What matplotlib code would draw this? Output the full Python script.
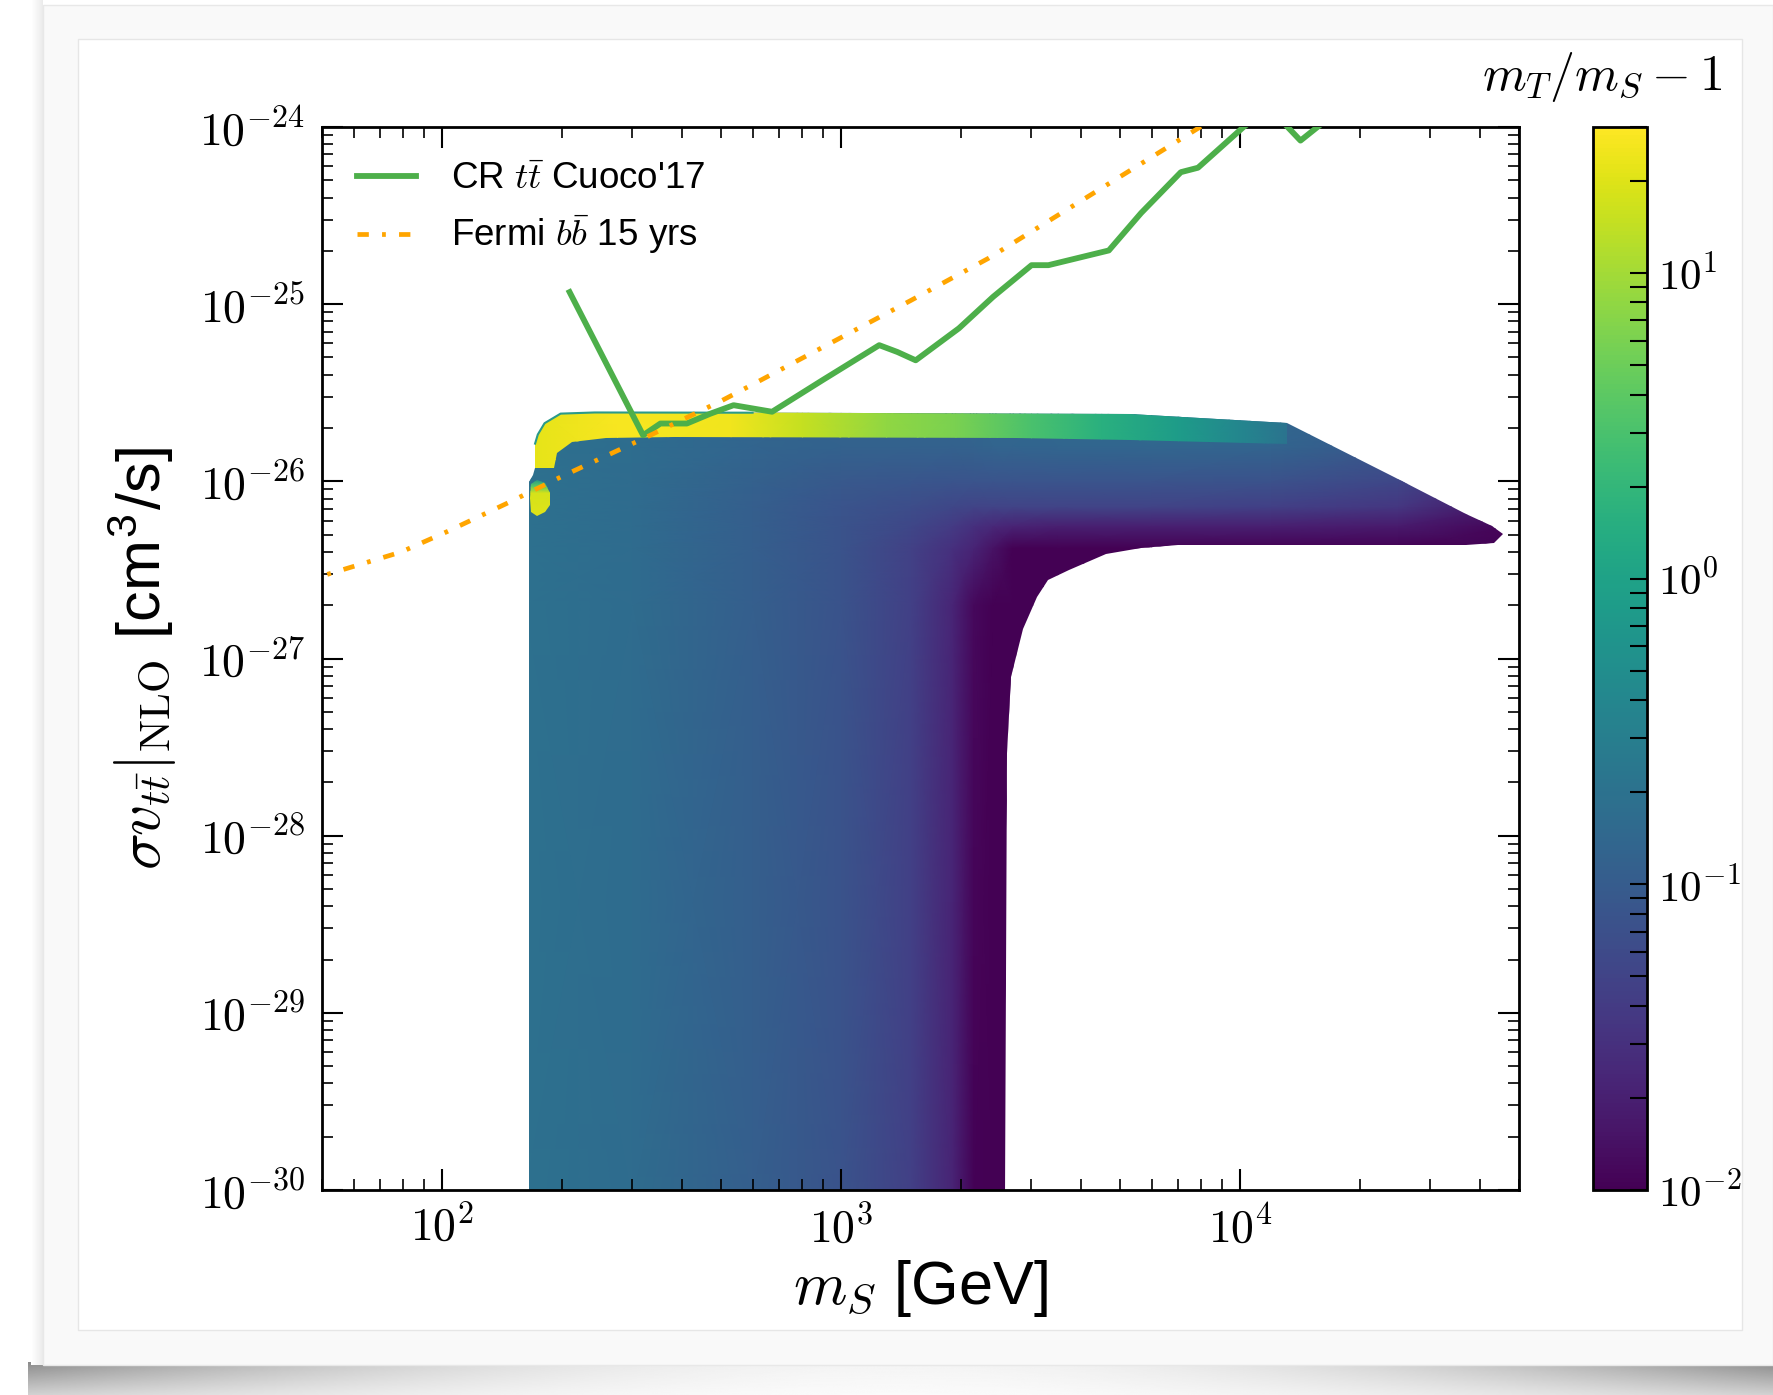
import numpy as np
import matplotlib
matplotlib.use('Agg')
import matplotlib.pyplot as plt
from matplotlib.colors import LogNorm
from matplotlib.patches import Polygon, Rectangle
from matplotlib.ticker import FuncFormatter, LogLocator, NullFormatter

plt.rcParams['font.family'] = ['Liberation Sans', 'DejaVu Sans']
plt.rcParams['mathtext.fontset'] = 'cm'

# outline of the scanned region (m_S [GeV], sigma v [cm^3/s])
region_ms = [165.4, 165.4, 169.2, 171.0, 171.0, 173.7, 180.6, 198.1, 241.2, 5288, 13092,
             24280, 36720, 42720, 45600, 43280, 36720, 6968, 5648, 4606, 3733, 3307,
             3106, 2863, 2670, 2601, 2572]
region_sv = [9e-31, 9.91e-27, 1.082e-26, 1.183e-26, 1.633e-26, 1.837e-26, 2.128e-26, 2.411e-26,
             2.447e-26, 2.393e-26, 2.135e-26, 1.057e-26, 6.57e-27, 5.59e-27, 5.04e-27, 4.48e-27,
             4.35e-27, 4.35e-27, 4.23e-27, 3.87e-27, 3.15e-27, 2.76e-27, 2.21e-27, 1.47e-27,
             7.91e-28, 2.91e-28, 9e-31]

# colour table of m_T/m_S - 1 inside the region
bulk_ms = [160, 300, 600, 1000, 1500, 1900, 2150, 2400, 2700, 3500, 6000, 12000, 25000, 47000]
bulk_sv = [9e-31, 2e-27, 4.2e-27, 5.6e-27, 7.2e-27, 1.0e-26, 1.6e-26, 2.6e-26]
bulk_r = [
    [.19, .165, .11, .077, .045, .022, .0105, .01, .01, .01, .01, .01, .01, .01],
    [.19, .165, .11, .077, .045, .023, .012, .01, .01, .01, .01, .01, .01, .01],
    [.19, .165, .11, .077, .047, .030, .022, .015, .01, .01, .01, .01, .01, .01],
    [.19, .165, .11, .078, .055, .040, .030, .025, .022, .02, .02, .02, .018, .011],
    [.19, .165, .11, .080, .065, .055, .050, .050, .050, .05, .05, .045, .035, .015],
    [.19, .165, .115, .090, .085, .080, .080, .080, .080, .08, .08, .075, .055, .025],
    [.19, .17, .13, .12, .12, .12, .125, .13, .13, .135, .14, .13, .09, .04],
    [.19, .17, .13, .12, .12, .12, .125, .13, .13, .135, .14, .14, .10, .05],
]

# upper band (large mass splitting)
band_ms = [171.0, 171.0, 173.7, 180.6, 198.1, 241.2, 5288, 13092,
           13092, 5288, 2742, 382, 257.5, 211.5, 194.2, 190.4]
band_sv = [1.183e-26, 1.633e-26, 1.837e-26, 2.128e-26, 2.411e-26, 2.447e-26, 2.393e-26, 2.135e-26,
           1.633e-26, 1.707e-26, 1.758e-26, 1.784e-26, 1.758e-26, 1.658e-26, 1.452e-26, 1.183e-26]
band_nodes_ms = [165, 174, 275, 530, 800, 1300, 1940, 3000, 4500, 7000, 10000, 13500]
band_nodes_r = [22, 22, 28, 25, 15, 8, 6, 3, 1.6, 0.8, 0.4, 0.2]

# small isolated blob at the left edge
blob_ms = [167.5, 173.0, 181.0, 186.5, 186.5, 181.0, 173.0, 167.5, 166.0]
blob_sv = [9.62e-27, 1.02e-26, 9.77e-27, 8.56e-27, 7.39e-27, 6.67e-27, 6.38e-27, 6.67e-27, 8.07e-27]
blob_nodes_sv = [6.3e-27, 8.6e-27, 9.4e-27, 1.03e-26]
blob_nodes_r = [20, 18, 4, 0.6]

# limits
cr_ms = [208.7, 318.9, 352.5, 410.6, 470.4, 537.6, 671.5, 897.4, 1246, 1384, 1538, 1974, 2404,
         3001, 3308, 4688, 5648, 7105, 7843, 8943, 10200, 10890, 12835, 14170, 15630, 17250]
cr_sv = [1.17e-25, 1.82e-26, 2.12e-26, 2.12e-26, 2.41e-26, 2.69e-26, 2.47e-26, 3.72e-26, 5.87e-26,
         5.37e-26, 4.82e-26, 7.31e-26, 1.10e-25, 1.66e-25, 1.66e-25, 2.01e-25, 3.27e-25, 5.56e-25,
         5.89e-25, 7.67e-25, 1.0e-24, 1.11e-24, 1.06e-24, 8.38e-25, 1.0e-24, 1.19e-24]
fermi_ms = [45, 78.9, 102.7, 144.8, 202.1, 318.9, 503, 628.4, 1496, 2335, 7943, 10200]
fermi_sv = [2.72e-27, 3.99e-27, 5.19e-27, 7.48e-27, 1.08e-26, 1.74e-26, 2.86e-26, 3.72e-26,
            1.05e-25, 1.81e-25, 1.0e-24, 1.38e-24]

W, H = 1773, 1395
fig = plt.figure(figsize=(W / 100, H / 100), dpi=100, facecolor='white')

# screenshot card and shadow
bg = fig.add_axes([0, 0, 1, 1], zorder=-5)
bg.set_xlim(0, W)
bg.set_ylim(H, 0)
bg.axis('off')
xx = np.linspace(-1, 1, 400)
yy = np.linspace(0, 1, 40)
side = 0.1 + 0.9 * np.abs(xx) ** 2
shade = 1 - 0.45 * np.outer(1 - 0.6 * yy, side)
bg.imshow(shade, cmap='gray', vmin=0, vmax=1, extent=[28, W, H, 1362], aspect='auto', zorder=0)
for k in range(12):
    bg.add_patch(Rectangle((31 + k, 0), 1, 1365, color=str(1 - 0.007 * k), lw=0, zorder=1))
bg.add_patch(Rectangle((43, 5), W - 43, 1360, facecolor='#f9f9f9', edgecolor='#e8e8e8', lw=1, zorder=2))
bg.add_patch(Rectangle((78, 39), 1742 - 78, 1330 - 39, facecolor='white', edgecolor='#e6e6e6', lw=1, zorder=3))

ax = fig.add_axes([322 / W, 1 - 1190 / H, (1519 - 322) / W, (1190 - 127) / H])
ax.set_facecolor('none')
ax.set_xscale('log')
ax.set_yscale('log')
ax.set_xlim(50, 5e4)
ax.set_ylim(1e-30, 1e-24)

norm = LogNorm(vmin=1e-2, vmax=30)

mesh = ax.pcolormesh(bulk_ms, bulk_sv, np.array(bulk_r), shading='gouraud', cmap='viridis', norm=norm, zorder=1)
clip = Polygon(np.column_stack([region_ms, region_sv]), closed=True, transform=ax.transData)
mesh.set_clip_path(clip)

band_r = np.array([band_nodes_r, band_nodes_r])
band_mesh = ax.pcolormesh(band_nodes_ms, [1.1e-26, 2.6e-26], band_r, shading='gouraud',
                          cmap='viridis', norm=norm, zorder=2)
band_mesh.set_clip_path(Polygon(np.column_stack([band_ms, band_sv]), closed=True, transform=ax.transData))
ax.plot(region_ms[4:9] + [600], region_sv[4:9] + [2.44e-26], color='#2a9a8a', lw=1.5, zorder=2.5)

blob_r = np.array([[v, v] for v in blob_nodes_r])
blob_mesh = ax.pcolormesh([160, 190], blob_nodes_sv, blob_r, shading='gouraud', cmap='viridis', norm=norm, zorder=2)
blob_mesh.set_clip_path(Polygon(np.column_stack([blob_ms, blob_sv]), closed=True, transform=ax.transData))

ax.plot(cr_ms, cr_sv, color='#4daf4a', lw=4.2, label=r"CR $t\bar{t}$ Cuoco'17", zorder=4)
ax.plot(fermi_ms, fermi_sv, color='#ffa500', lw=3.4, dashes=(2.4, 2.8, 0.8, 2.8),
        label=r'Fermi $b\bar{b}$ 15 yrs', zorder=4)

fmt = FuncFormatter(lambda v, p: r'$10^{%d}$' % int(round(np.log10(v))))
ax.xaxis.set_major_formatter(fmt)
ax.yaxis.set_major_formatter(fmt)
ax.xaxis.set_minor_formatter(NullFormatter())
ax.yaxis.set_minor_formatter(NullFormatter())
ax.yaxis.set_major_locator(LogLocator(base=10, numticks=20))
ax.yaxis.set_minor_locator(LogLocator(base=10, subs=np.arange(2, 10), numticks=20))
ax.tick_params(which='both', direction='in', top=True, right=True, labelsize=33, pad=12)
ax.tick_params(which='major', length=15, width=1.5)
ax.tick_params(which='minor', length=8, width=1.2)
for s in ax.spines.values():
    s.set_linewidth(2)

ax.set_xlabel(r'$m_S$ [GeV]', fontsize=44, labelpad=4)
ax.set_ylabel(r'$\sigma v_{t\bar{t}}|_{\rm NLO}$ [cm$^{\mathdefault{3}}$/s]', fontsize=44, labelpad=14)

ax.legend(loc='upper left', frameon=False, fontsize=26.5, handlelength=1.6, handletextpad=0.95,
          labelspacing=0.45, borderaxespad=0.55)

cax = fig.add_axes([1593 / W, 1 - 1190 / H, (1647 - 1593) / W, (1190 - 127) / H])
cb = fig.colorbar(mesh, cax=cax)
cb.outline.set_linewidth(2)
cax.yaxis.set_major_formatter(fmt)
cax.yaxis.set_minor_formatter(NullFormatter())
cax.tick_params(which='both', direction='in', length=12, width=1.5, labelsize=31, pad=8)
fig.text(1722 / W, 1 - 77 / H, r'$m_T/m_S-1$', fontsize=36, ha='right', va='center')

fig.savefig('out.png', dpi=100, facecolor=fig.get_facecolor())
